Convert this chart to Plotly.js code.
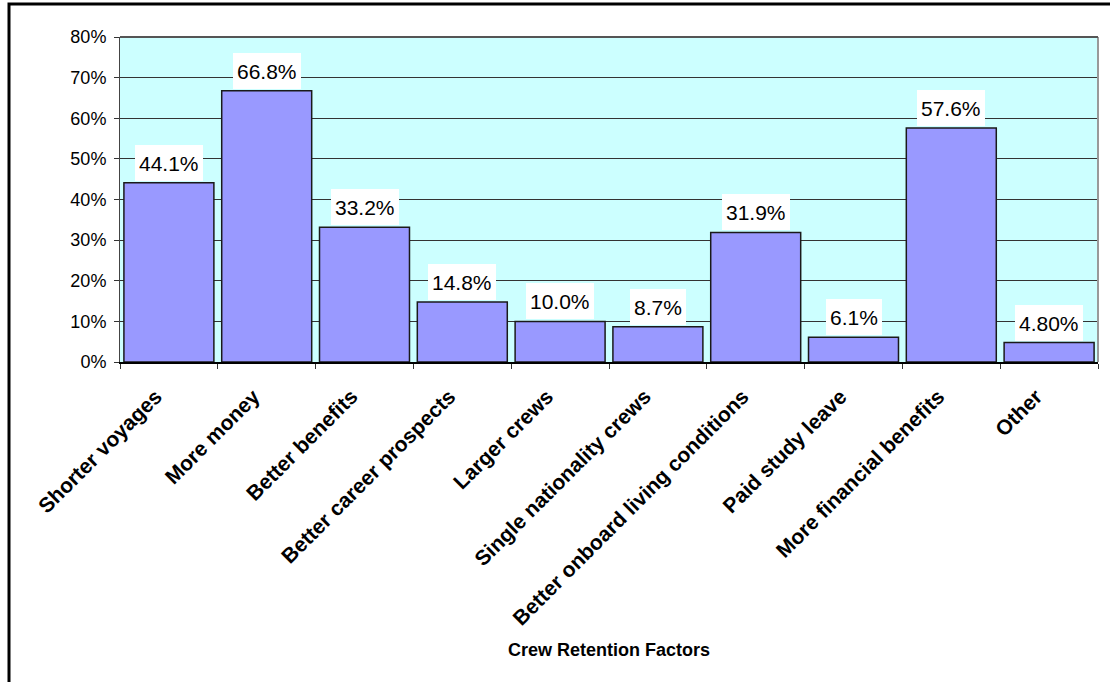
<!DOCTYPE html>
<html>
<head>
<meta charset="utf-8">
<script src="https://cdn.plot.ly/plotly-3.0.1.min.js"></script>
<style>
html,body{margin:0;padding:0;background:#fff;}
#chart{width:1110px;height:682px;}
</style>
</head>
<body>
<div id="chart"></div>
<script>
const categories = ["Shorter voyages","More money","Better benefits","Better career prospects","Larger crews","Single nationality crews","Better onboard living conditions","Paid study leave","More financial benefits","Other"];
const values = [0.441,0.668,0.332,0.148,0.100,0.087,0.319,0.061,0.576,0.048];
const labels = ["44.1%","66.8%","33.2%","14.8%","10.0%","8.7%","31.9%","6.1%","57.6%","4.80%"];
const yTickVals = [0,0.1,0.2,0.3,0.4,0.5,0.6,0.7,0.8];
const yTickText = ["0%","10%","20%","30%","40%","50%","60%","70%","80%"];
const xTitle = "Crew Retention Factors";

const W=1110,H=682,ml=120,mr=12,mt=37,mb=320;
const pw=W-ml-mr, ph=H-mt-mb;
const px=x=>(x-ml)/pw, py=y=>(H-mb-y)/ph;
const FONT='Liberation Sans, Arial, sans-serif';

const annotations = categories.map((c,i)=>({
  x:c, y:values[i], xref:'x', yref:'y', text:labels[i], showarrow:false,
  yanchor:'bottom', yshift:2, bgcolor:'#ffffff', borderpad:4, borderwidth:0, height:28,
  font:{family:FONT, size:21, color:'#000'}
}));
annotations.push({
  xref:'paper', yref:'paper', x:px(609), y:py(650), text:'<b>'+xTitle+'</b>', showarrow:false,
  xanchor:'center', yanchor:'middle',
  font:{family:FONT, size:18, color:'#000'}
});

const trace = {
  type:'bar', x:categories, y:values,
  marker:{color:'#9999FF', line:{color:'#1a1a1a', width:1.5}},
  hoverinfo:'skip'
};

const layout = {
  width:W, height:H,
  margin:{l:ml, r:mr, t:mt, b:mb, pad:0},
  paper_bgcolor:'#ffffff', plot_bgcolor:'#CCFFFF',
  showlegend:false, bargap:0.08,
  font:{family:FONT, color:'#000'},
  xaxis:{
    type:'category', tickangle:-45, tickson:'boundaries', ticks:'outside', ticklen:5,
    tickcolor:'#333', tickwidth:1, ticklabelstandoff:12, ticklabelshift:-13,
    showline:true, linecolor:'#000', linewidth:2, mirror:false,
    showgrid:false, zeroline:false, automargin:false,
    tickfont:{family:FONT, size:21, color:'#000', weight:'bold'}
  },
  yaxis:{
    range:[0,0.8], tickvals:yTickVals, ticktext:yTickText, ticks:'outside', ticklen:5,
    tickcolor:'#333', showline:true, linecolor:'#444', linewidth:1, ticklabelstandoff:4,
    showgrid:true, gridcolor:'#333', gridwidth:1, zeroline:false, automargin:false,
    tickfont:{family:FONT, size:18, color:'#000'}
  },
  annotations: annotations,
  shapes:[
    {type:'line', xref:'paper', yref:'paper', x0:1, x1:1, y0:0, y1:1, line:{color:'#999', width:2}, layer:'above'},
    {type:'line', xref:'paper', yref:'paper', x0:0, x1:1, y0:1, y1:1, line:{color:'#555', width:2}, layer:'above'},
    {type:'path', xref:'paper', yref:'paper',
     path:'M '+px(9)+' '+py(H+5)+' L '+px(9)+' '+py(4)+' L '+px(W+5)+' '+py(4),
     line:{color:'#000', width:3}}
  ]
};

Plotly.newPlot('chart',[trace],layout,{staticPlot:true, displayModeBar:false});
</script>
</body>
</html>
